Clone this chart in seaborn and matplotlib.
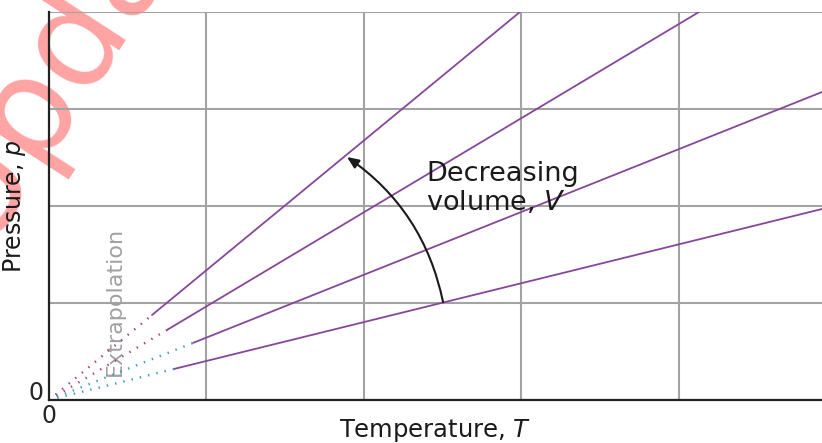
import numpy as np
import pandas as pd
import matplotlib
matplotlib.use("Agg")
import matplotlib.pyplot as plt
import seaborn as sns

# isochores: p against T for four fixed volumes (grid units)
volumes = ["V1", "V2", "V3", "V4"]
t_start = [0.654, 0.749, 0.914, 0.794]
p_start = [0.876, 0.722, 0.588, 0.320]
t_end = [2.99, 4.127, 4.908, 4.908]
p_end = [4.0, 4.0, 3.175, 1.969]
dot_colors = ["#a2457f", "#a2457f", "#3a9cc0", "#3a9cc0"]

solid = pd.DataFrame({
    "V": volumes * 2,
    "T": t_start + t_end,
    "p": p_start + p_end,
})
dotted = pd.DataFrame({
    "V": volumes * 2,
    "T": [0.0] * 4 + t_start,
    "p": [0.0] * 4 + p_start,
})

sns.set_style("whitegrid")
plt.rcParams["font.family"] = ["DejaVu Sans"]
plt.rcParams["mathtext.fontset"] = "dejavusans"

fig = plt.figure(figsize=(8.22, 4.43), dpi=100)
ax = fig.add_axes([49 / 822, 43 / 443, 773 / 822, 388 / 443])
ax.set_facecolor("none")

sns.lineplot(data=solid, x="T", y="p", units="V", estimator=None,
             color="#86479a", lw=1.3, ax=ax, zorder=3)
sns.lineplot(data=dotted, x="T", y="p", hue="V", palette=dot_colors,
             estimator=None, lw=1.7, ls=(0, (0.6, 3.0)), legend=False,
             ax=ax, zorder=3)

ax.set_xlim(0, 4.908)
ax.set_ylim(0, 4)
ax.set_xticks([0, 1, 2, 3, 4])
ax.set_yticks([0, 1, 2, 3, 4])
ax.set_xticklabels(["0", "", "", "", ""], fontsize=17)
ax.set_yticklabels(["0", "", "", "", ""], fontsize=17)
ax.tick_params(axis="x", length=0, pad=3)
ax.tick_params(axis="y", length=0, pad=4)
for lab in ax.get_yticklabels():
    lab.set_verticalalignment("baseline")
ax.grid(True, color="#a3a3a3", lw=1.5)
for s in ["top", "right"]:
    ax.spines[s].set_visible(False)
for s in ["left", "bottom"]:
    ax.spines[s].set_color("#222222")
    ax.spines[s].set_linewidth(1.6)
    ax.spines[s].set_zorder(4)

ax.set_xlabel("Temperature, $T$", fontsize=17.5, labelpad=-8, color="#1a1a1a")
ax.set_ylabel("Pressure, $p$", fontsize=17, labelpad=0, color="#1a1a1a")

ax.text(0.419, 1.02, "Extrapolation", rotation=90, ha="center", va="center",
        fontsize=16, color="#a0a0a0", zorder=2)
ax.text(2.395, 2.46, "Decreasing\nvolume, $V$", ha="left", va="top",
        fontsize=19.5, color="#1a1a1a", linespacing=1.1, zorder=5)
ax.annotate("", xy=(1.892, 2.505), xytext=(2.502, 1.01),
            arrowprops=dict(arrowstyle="-|>,head_length=0.7,head_width=0.3",
                            color="#1a1a1a", lw=1.5,
                            connectionstyle="arc3,rad=0.2",
                            shrinkA=0, shrinkB=0), zorder=5)

# pink watermark in the top left corner
fig.text(-0.13, 0.47, "Updat", rotation=57, fontsize=98, color="#ffa3a3",
         ha="left", va="baseline", zorder=-5)

fig.savefig("out.png", dpi=100)
